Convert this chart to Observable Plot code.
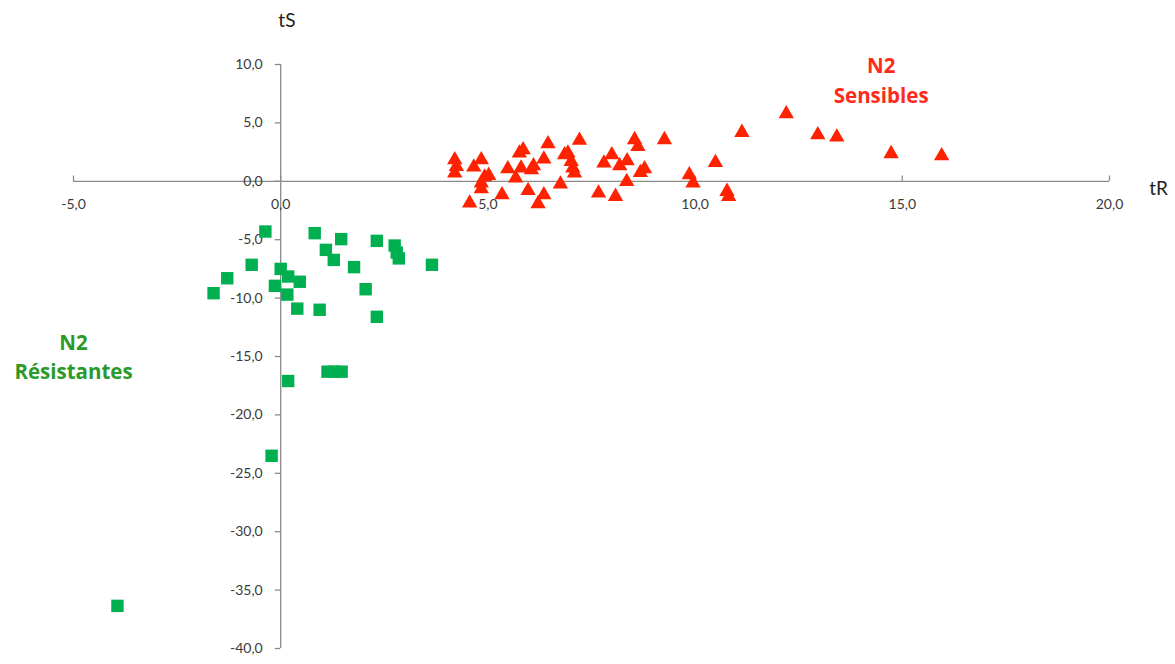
<!DOCTYPE html>
<html>
<head>
<meta charset="utf-8">
<script src="https://cdn.jsdelivr.net/npm/d3@7"></script>
<script src="https://cdn.jsdelivr.net/npm/@observablehq/plot@0.6"></script>
<style>
  html, body { margin: 0; padding: 0; background: #fff; }
  #chart svg { display: block; }
</style>
</head>
<body>
<div id="chart"></div>
<script>
// Résistantes (green squares)
const resistTR = [-0.37, 0.82, 1.46, 2.32, 2.75, 2.8, 2.85, 1.09, 1.28, 1.77, 3.65, -0.7, -1.29, -1.62, 0.0, 0.18, 0.46, -0.14, 0.16, 0.4, 0.94, 2.05, 2.32, 1.13, 1.3, 1.47, 0.18, -0.22, -3.94];
const resistTS = [-4.3, -4.44, -4.95, -5.1, -5.5, -6.1, -6.6, -5.87, -6.73, -7.35, -7.15, -7.15, -8.3, -9.58, -7.5, -8.15, -8.6, -8.95, -9.7, -10.9, -11.0, -9.24, -11.6, -16.3, -16.3, -16.3, -17.1, -23.5, -36.35];

// Sensibles (red triangles)
const sensTR = [4.2, 4.24, 4.2, 4.66, 4.84, 4.92, 5.02, 4.84, 4.84, 4.56, 5.34, 5.48, 5.67, 5.8, 5.76, 5.85, 6.05, 6.1, 5.97, 6.21, 6.35, 6.35, 6.45, 6.75, 6.85, 6.93, 7.01, 7.05, 7.09, 7.21, 7.67, 7.8, 7.99, 8.08, 8.18, 8.36, 8.35, 8.54, 8.62, 8.68, 8.78, 9.26, 9.86, 9.95, 10.49, 10.77, 10.81, 11.13, 12.2, 12.96, 13.42, 14.73, 15.95];
const sensTS = [1.84, 1.27, 0.7, 1.22, 1.84, 0.36, 0.5, -0.15, -0.64, -1.87, -1.16, 1.07, 0.27, 1.13, 2.42, 2.7, 0.98, 1.33, -0.79, -1.93, -1.16, 1.9, 3.21, -0.24, 2.27, 2.42, 1.7, 1.13, 0.7, 3.5, -1.01, 1.56, 2.27, -1.3, 1.33, 1.76, -0.02, 3.56, 2.98, 0.75, 1.07, 3.56, 0.56, -0.15, 1.61, -0.87, -1.3, 4.18, 5.78, 3.98, 3.78, 2.36, 2.18];

const xTicks = [-5, 0, 5, 10, 15, 20];
const yTicks = [10, 5, 0, -5, -10, -15, -20, -25, -30, -35, -40];

const resist = resistTR.map((x, i) => ({tR: x, tS: resistTS[i]}));
const sens = sensTR.map((x, i) => ({tR: x, tS: sensTS[i]}));
const fmt = d => d.toFixed(1).replace(".", ",");

const axisColor = "#8a8a8a";
const font = "Lato, 'Open Sans', sans-serif";
const labelFont = "'Open Sans', Lato, sans-serif";

const chart = Plot.plot({
  width: 1175,
  height: 664,
  marginLeft: 73,
  marginRight: 66,
  marginTop: 64,
  marginBottom: 16,
  style: {fontFamily: font, background: "#fff"},
  x: {domain: [-5, 20], axis: null},
  y: {domain: [-40, 10], axis: null},
  marks: [
    Plot.ruleY([0], {x1: -5, x2: 20, stroke: axisColor, strokeWidth: 1.3}),
    Plot.ruleX([0], {y1: -40, y2: 10, stroke: axisColor, strokeWidth: 1.3}),
    Plot.ruleX(xTicks, {x: d => d, y1: 0, y2: 0.45, stroke: axisColor, strokeWidth: 1.3}),
    Plot.ruleY(yTicks, {y: d => d, x1: -0.13, x2: 0, stroke: axisColor, strokeWidth: 1.3}),
    Plot.text(xTicks, {x: d => d, y: 0, dy: 23, text: fmt, fontSize: 14, fill: "#3a3a3a"}),
    Plot.text(yTicks, {x: 0, y: d => d, dx: -18, textAnchor: "end", text: fmt, fontSize: 14, fill: "#3a3a3a"}),
    Plot.text(["tS"], {x: 0.15, y: 10, dy: -44, text: d => d, fontSize: 19, fill: "#222"}),
    Plot.text(["tR"], {x: 20, y: 0, dx: 49, dy: 8, text: d => d, fontSize: 19, fill: "#222"}),
    Plot.dot(resist, {x: "tR", y: "tS", symbol: "square", r: 7, fill: "#00b050", stroke: "none"}),
    Plot.dot(sens, {x: "tR", y: "tS", symbol: "triangle", r: 5.7, fill: "#ff2200", stroke: "none"}),
    Plot.text(["N2\nSensibles"], {x: 14.49, y: 8.8, text: d => d, fontFamily: labelFont, fontSize: 20.5, fontWeight: "bold", fill: "#ff2a1a", lineHeight: 1.45}),
    Plot.text(["N2\nRésistantes"], {x: -5.0, y: -14.87, text: d => d, fontFamily: labelFont, fontSize: 20.5, fontWeight: "bold", fill: "#2a9a2a", lineHeight: 1.45})
  ]
});
document.getElementById("chart").appendChild(chart);
</script>
</body>
</html>
